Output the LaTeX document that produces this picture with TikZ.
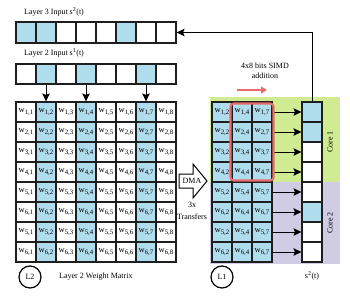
\documentclass[tikz,border=0pt]{standalone}
\usepackage{fontspec}
\setmainfont{Liberation Serif}
\usetikzlibrary{arrows.meta}
\definecolor{cellblue}{RGB}{176,221,238}
\definecolor{coregreen}{RGB}{208,235,145}
\definecolor{corepurple}{RGB}{208,204,228}
\definecolor{simdred}{RGB}{232,108,108}
\definecolor{gridline}{RGB}{30,30,30}
\newcommand{\wsub}[2]{w\raisebox{-0.4ex}{\fontsize{6.8}{7}\selectfont #1,#2}}
\begin{document}
\begin{tikzpicture}[x=1pt,y=-1pt,
  cell/.style={draw=gridline, line width=1.1pt, minimum width=20pt, minimum height=20pt, inner sep=0pt, font=\fontsize{8.5}{9}\selectfont},
  lbl/.style={font=\fontsize{8}{9.5}\selectfont, inner sep=0pt},
  arr/.style={-{Stealth[length=8pt,width=7.5pt,inset=1.5pt]}, line width=1pt},
  lcirc/.style={circle, draw, line width=1.2pt, minimum size=22pt, inner sep=0pt, font=\fontsize{8}{9}\selectfont}
]
\useasboundingbox (0,0) rectangle (350,303);
% core backgrounds
\fill[coregreen] (210,97) rectangle (340,182);
\fill[corepurple] (210,182) rectangle (340,264);
% labels
\node[lbl, anchor=west] (l3lbl) at (24,12) {Layer 3 Input s\textsuperscript{2}(t)};
\node[lbl, anchor=west] (l2lbl) at (24,53) {Layer 2 Input s\textsuperscript{1}(t)};
% layer 3 input row
\foreach \f [count=\j from 0] in {cellblue,cellblue,white,white,white,cellblue,white,white}
  \node[cell, minimum height=21pt, fill=\f] (s3-\j) at (26+20*\j, 32.5) {};
% layer 2 input row
\foreach \f [count=\j from 0] in {white,cellblue,white,cellblue,white,white,cellblue,white}
  \node[cell, fill=\f] (s1-\j) at (26+20*\j, 74) {};
% weight matrix L2
\foreach \r [count=\i from 0] in {1,2,3,4,5,6,5,6}{
  \foreach \c/\f [count=\j from 0] in {1/white,2/cellblue,3/white,4/cellblue,5/white,6/white,7/cellblue,8/white}
    \node[cell, fill=\f] (m-\i-\j) at (26+20*\j, 112+20*\i) {\wsub{\r}{\c}};
}
% L1 matrix
\foreach \r [count=\i from 0] in {1,2,3,4,5,6,5,6}{
  \foreach \c [count=\j from 0] in {2,4,7}
    \node[cell, fill=cellblue] (l1-\i-\j) at (222+20*\j, 112+20*\i) {\wsub{\r}{\c}};
}
% output column s2
\foreach \f [count=\i from 0] in {cellblue,cellblue,white,white,white,cellblue,white,white}
  \node[cell, fill=\f] (s2-\i) at (312, 112+20*\i) {};
% arrows from layer 2 input to matrix
\foreach \j in {1,3,6}
  \draw[arr] (s1-\j.south) -- (m-0-\j.north);
% feedback arrow to layer 3 input
\draw[arr] (s2-0.north) |- (s3-7.east);
% L1 to s2 arrows
\foreach \i in {0,...,7}
  \draw[arr] (l1-\i-2.east) -- (s2-\i.west);
% SIMD highlight
\draw[simdred, line width=2.2pt, rounded corners=3.5pt] ([xshift=-1pt,yshift=-2pt]l1-0-1.north west) rectangle ([xshift=1pt,yshift=2pt]l1-3-2.south east);
\coordinate (simdA) at (237,90);
\coordinate (simdB) at (267,90);
\draw[simdred, line width=1.2pt, -{Triangle[length=6pt,width=7pt]}] (simdA) -- (simdB);
\node[lbl, align=center] (simd) at (265,71) {4x8 bits SIMD\\addition};
% DMA arrow
\draw[line width=1pt, fill=white] (179,174) -- (193,174) -- (193,164) -- (207,181) -- (193,198) -- (193,188) -- (179,188) -- cycle;
\node[lbl] (dma) at (192,181) {DMA};
\node[lbl, align=center, font=\fontsize{8}{12}\selectfont] (xfer) at (192,211) {3x\\Transfers};
% core labels
\node[lbl, rotate=90] (core1) at (330,142) {Core 1};
\node[lbl, rotate=90] (core2) at (330,223) {Core 2};
% bottom labels
\node[lcirc] (L2) at (30,277) {L2};
\node[lbl, anchor=west] (wm) at (59,277) {Layer 2 Weight Matrix};
\node[lcirc] (L1) at (222,277) {L1};
\node[lbl] (s2lbl) at (312,276) {s\textsuperscript{2}(t)};
\end{tikzpicture}
\end{document}
